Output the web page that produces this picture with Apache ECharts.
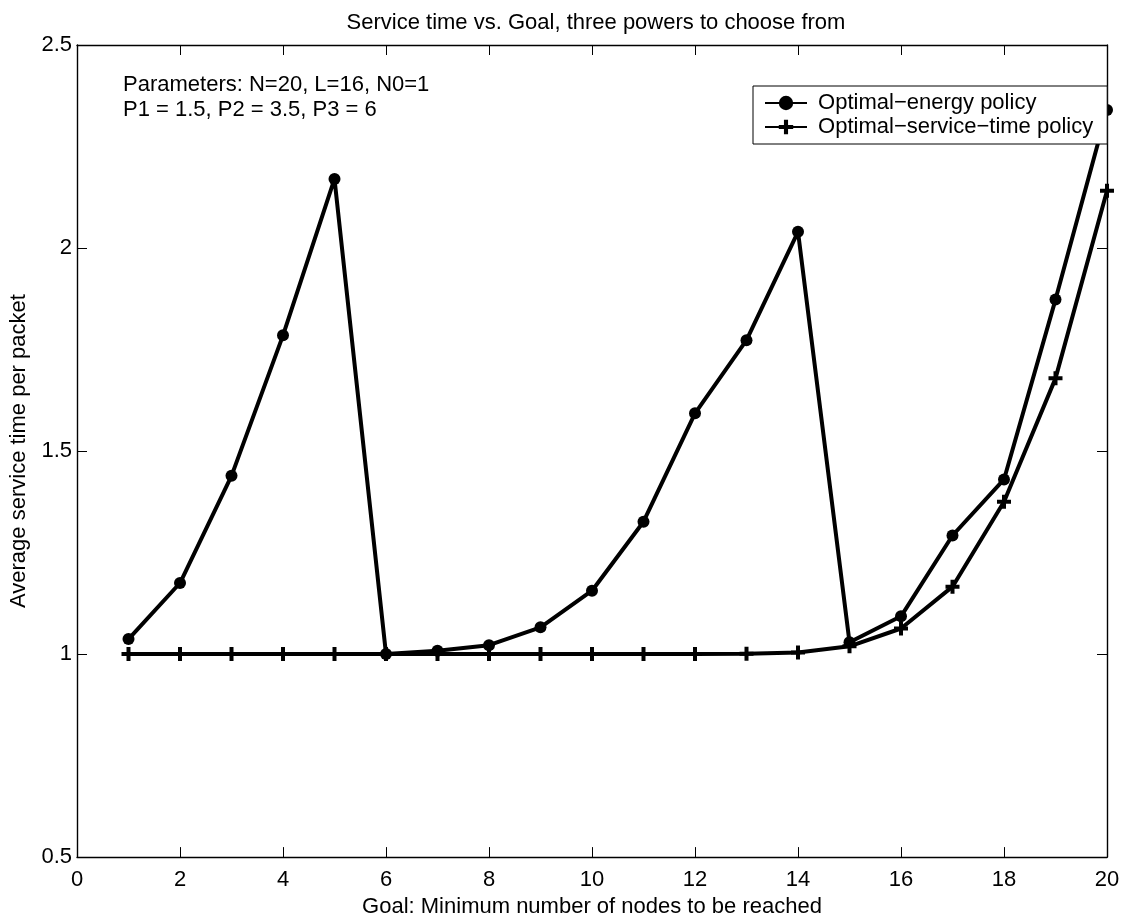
<!DOCTYPE html>
<html>
<head>
<meta charset="utf-8">
<script src="https://cdn.jsdelivr.net/npm/echarts@6/dist/echarts.min.js"></script>
<style>html,body{margin:0;padding:0;background:#fff}#c{width:1133px;height:923px}</style>
</head>
<body>
<div id="c"></div>
<script>
const goals = [1,2,3,4,5,6,7,8,9,10,11,12,13,14,15,16,17,18,19,20];
const energyPolicy = [1.037,1.175,1.439,1.785,2.170,1.000,1.008,1.022,1.066,1.156,1.326,1.593,1.773,2.040,1.029,1.093,1.292,1.430,1.873,2.340];
const serviceTimePolicy = [1.000,1.000,1.000,1.000,1.000,1.000,1.000,1.000,1.000,1.000,1.000,1.000,1.001,1.004,1.019,1.063,1.166,1.375,1.679,2.141];
const seriesNames = ['Optimal\u2212energy policy','Optimal\u2212service\u2212time policy'];
const titleText = 'Service time vs. Goal, three powers to choose from';
const xName = 'Goal: Minimum number of nodes to be reached';
const yName = 'Average service time per packet';
const noteLines = ['Parameters: N=20, L=16, N0=1','P1 = 1.5, P2 = 3.5, P3 = 6'];

const FONT = 'Liberation Sans, Arial, Helvetica, sans-serif';
const FS = 22;
const plus = 'path://M-7,-2 H-2 V-7 H2 V-2 H7 V2 H2 V7 H-2 V2 H-7 Z';
const pairs = arr => goals.map((g,i)=>[g,arr[i]]);

const chart = echarts.init(document.getElementById('c'), null, {renderer:'canvas'});
const axisCommon = {
  axisLine:{show:true,onZero:false,lineStyle:{color:'#000',width:1.4}},
  axisTick:{show:true,inside:true,length:10,lineStyle:{color:'#000',width:1}},
  splitLine:{show:false}
};
chart.setOption({
  animation:false,
  backgroundColor:'#fff',
  title:{text:titleText,left:591,textAlign:'center',top:7,textStyle:{fontFamily:FONT,fontSize:FS,fontWeight:'normal',color:'#000'}},
  grid:{left:75,right:26,top:45,bottom:65,containLabel:false},
  legend:{
    orient:'vertical',left:753,top:86,
    backgroundColor:'#fff',borderColor:'#000',borderWidth:1,
    padding:[6,14,6,11],itemGap:2,itemWidth:42,itemHeight:18,
    formatter:name => ' ' + name,
    textStyle:{fontFamily:FONT,fontSize:FS,color:'#000'},
    data:[{name:seriesNames[0]},{name:seriesNames[1]}]
  },
  xAxis:[
    Object.assign({type:'value',min:0,max:20,interval:2,position:'bottom',
      name:xName,nameLocation:'middle',nameGap:36,
      nameTextStyle:{fontFamily:FONT,fontSize:FS,color:'#000'},
      axisLabel:{fontFamily:FONT,fontSize:FS,color:'#000',margin:12}},axisCommon),
    Object.assign({type:'value',min:0,max:20,interval:2,position:'top',axisLabel:{show:false}},axisCommon)
  ],
  yAxis:[
    Object.assign({type:'value',min:0.5,max:2.5,interval:0.5,position:'left',
      name:yName,nameLocation:'middle',nameGap:47,nameRotate:90,
      nameTextStyle:{fontFamily:FONT,fontSize:FS,color:'#000'},
      axisLabel:{fontFamily:FONT,fontSize:FS,color:'#000',margin:5}},axisCommon),
    Object.assign({type:'value',min:0.5,max:2.5,interval:0.5,position:'right',axisLabel:{show:false}},axisCommon)
  ],
  graphic:[
    {type:'text',left:123,top:74,style:{text:noteLines[0],font:FS+'px '+FONT,fill:'#000'}},
    {type:'text',left:123,top:99,style:{text:noteLines[1],font:FS+'px '+FONT,fill:'#000'}}
  ],
  series:[
    {name:seriesNames[0],type:'line',data:pairs(energyPolicy),xAxisIndex:0,yAxisIndex:0,
      symbol:'circle',symbolSize:12,clip:true,z:2,
      lineStyle:{color:'#000',width:4},itemStyle:{color:'#000'}},
    {name:seriesNames[1],type:'line',data:pairs(serviceTimePolicy),xAxisIndex:0,yAxisIndex:0,
      symbol:plus,symbolSize:14,clip:true,z:2,
      lineStyle:{color:'#000',width:4},itemStyle:{color:'#000'}}
  ]
});
</script>
</body>
</html>
